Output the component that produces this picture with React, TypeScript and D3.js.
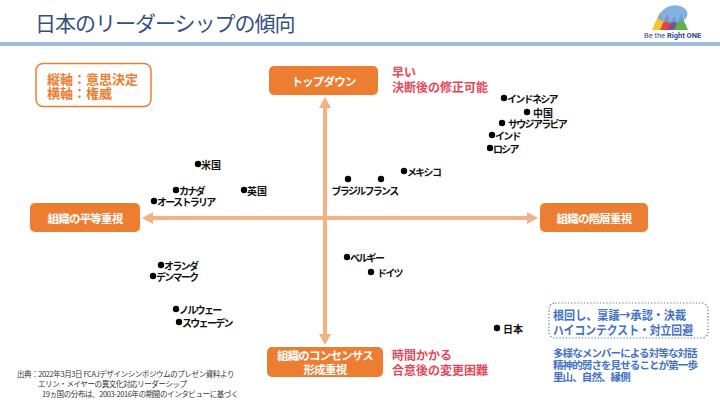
import React from 'react';
import * as d3 from 'd3';

// 国ごとの位置（横軸：権威 -10=平等 … 10=階層、縦軸：意思決定 10=トップダウン … -10=コンセンサス）
const countries = ['インドネシア', '中国', 'サウジアラビア', 'インド', 'ロシア', '米国', 'カナダ', '英国', 'オーストラリア',
  'ブラジル', 'フランス', 'メキシコ', 'ベルギー', 'ドイツ', 'オランダ', 'デンマーク', 'ノルウェー', 'スウェーデン', '日本'];
const authority = [8.95, 10.1, 8.85, 8.35, 8.25, -6.35, -7.45, -4.05, -8.55, 1.15, 2.8, 3.95, 1.1, 2.3, -8.2, -8.6, -7.45, -7.3, 8.6];
const decision = [9.6, 8.48, 7.6, 6.64, 5.6, 4.32, 2.24, 2.24, 1.36, 3.12, 3.12, 3.76, -3.12, -4.32, -3.76, -4.64, -7.28, -8.32, -8.8];
const labelBelow = ['ブラジル', 'フランス'];
const labelGap = ['ドイツ', '日本', '中国', 'サウジアラビア'];

const noteLines = ['根回し、稟議→承認・決裁', 'ハイコンテクスト・対立回避'];
const noteWidths = [133, 140];
const subLines = ['多様なメンバーによる対等な対話', '精神的弱さを見せることが第一歩', '里山、自然、縁側'];
const sourceLines = [
  '出典：2022年3月3日 FCAJデザインシンポジウムのプレゼン資料より',
  'エリン・メイヤーの異文化対応リーダーシップ',
  '19ヵ国の分布は、2003-2016年の期間のインタビューに基づく',
];

const W = 720;
const H = 402;
const ORANGE = '#ED7D31';
const AXIS = '#F4B183';
const RED = '#E8475A';
const BLUE = '#4472C4';
const FONT = '"Noto Sans CJK JP", "Noto Sans", sans-serif';

const x = d3.scaleLinear().domain([-10, 10]).range([125, 525]);
const y = d3.scaleLinear().domain([-10, 10]).range([343, 93]);

// 漢字だけのラベルは詰めない（カナは元資料のフォントが細いので詰める）
const spacing = (s: string) => (/^[\u4e00-\u9fff]+$/.test(s) ? 0 : -1.7);

const Box: React.FC<{ x0: number; y0: number; w: number; h: number; lines: string[] }> = ({ x0, y0, w, h, lines }) => (
  <g>
    <rect x={x0} y={y0} width={w} height={h} rx={5} fill={ORANGE} />
    {lines.map((t, i) => (
      <text key={i} x={x0 + w / 2} y={y0 + h / 2 + (i - (lines.length - 1) / 2) * 14} textAnchor="middle"
        dominantBaseline="central" fill="#fff" fontSize={11.5} fontWeight="bold" letterSpacing={-0.8}>{t}</text>
    ))}
  </g>
);

export default function App() {
  const cx = x(0);
  const cy = y(0);
  const left = 142, right = 538, top = 97, bottom = 345;

  return (
    <div style={{ position: 'fixed', left: 0, top: 0, width: W, height: H, background: '#fff' }}>
      <svg width={W} height={H} style={{ display: 'block', fontFamily: FONT }}>
        <rect width={W} height={H} fill="#fff" />
        {/* タイトル */}
        <text x={35} y={31} fontSize={21} fill="#34507F" letterSpacing={-1}>日本のリーダーシップの傾向</text>
        <rect x={0} y={42} width={W} height={4} fill="#9DBBDA" />

        {/* ロゴ */}
        <g>
          <path d="M652,30 L660,12 L666,30 Z" fill="#F2C531" />
          <path d="M660,30 L667,14 L673,30 Z" fill="#E0483A" />
          <path d="M667,30 L674,16 L680,30 Z" fill="#7B4FA0" />
          <path d="M674,30 L681,14 L688,30 Z" fill="#5BB348" />
          <path d="M658,18 C662,6 676,2 684,8 C690,12 688,20 680,22 C672,22 664,24 658,18 Z" fill="#6FA3DA" opacity={0.85} />
          <text x={644} y={38} fontSize={7.5} fill="#2E4A9A" fontFamily="Roboto, sans-serif">
            Be the <tspan fontWeight="bold">Right ONE</tspan>
          </text>
        </g>

        {/* 軸の説明 */}
        <rect x={36} y={63.5} width={115} height={43} rx={7} fill="#fff" stroke={ORANGE} strokeWidth={1.5} />
        <text x={47} y={78} dominantBaseline="central" fontSize={13} fontWeight="bold" fill={ORANGE}>縦軸：意思決定</text>
        <text x={47} y={92} dominantBaseline="central" fontSize={13} fontWeight="bold" fill={ORANGE}>横軸：権威</text>

        {/* 軸 */}
        <line x1={left + 8} x2={right - 8} y1={cy} y2={cy} stroke={AXIS} strokeWidth={4} />
        <line x1={cx} x2={cx} y1={top + 8} y2={bottom - 8} stroke={AXIS} strokeWidth={4} />
        <path d={`M${left},${cy} L${left + 11},${cy - 6} L${left + 11},${cy + 6} Z`} fill={AXIS} />
        <path d={`M${right},${cy} L${right - 11},${cy - 6} L${right - 11},${cy + 6} Z`} fill={AXIS} />
        <path d={`M${cx},${top} L${cx - 6},${top + 11} L${cx + 6},${top + 11} Z`} fill={AXIS} />
        <path d={`M${cx},${bottom} L${cx - 6},${bottom - 11} L${cx + 6},${bottom - 11} Z`} fill={AXIS} />

        <Box x0={269} y0={66} w={109} h={29} lines={['トップダウン']} />
        <Box x0={30} y0={203} w={110} h={29} lines={['組織の平等重視']} />
        <Box x0={540} y0={203} w={108} h={29} lines={['組織の階層重視']} />
        <Box x0={267} y0={347} w={116} h={30} lines={['組織のコンセンサス', '形成重視']} />

        {/* 赤い注記 */}
        <text fontSize={12} fontWeight="bold" fill={RED}>
          <tspan x={392} y={77}>早い</tspan>
          <tspan x={392} y={92}>決断後の修正可能</tspan>
        </text>
        <text fontSize={12} fontWeight="bold" fill={RED}>
          <tspan x={392} y={360}>時間かかる</tspan>
          <tspan x={392} y={375}>合意後の変更困難</tspan>
        </text>

        {/* 国 */}
        {countries.map((c, i) => {
          const px = x(authority[i]);
          const py = y(decision[i]);
          const below = labelBelow.includes(c);
          return (
            <g key={c}>
              <circle cx={px} cy={py} r={3.2} fill="#000" />
              {below ? (
                <text x={px} y={py + 11} textAnchor="middle" dominantBaseline="central" fontSize={10}
                  fontWeight="bold" letterSpacing={spacing(c)} fill="#111">{c}</text>
              ) : (
                <text x={px + (labelGap.includes(c) ? 6 : 3)} y={py}
                  dominantBaseline="central" fontSize={10} fontWeight="bold" letterSpacing={spacing(c)} fill="#111">{c}</text>
              )}
            </g>
          );
        })}

        {/* 青い注記 */}
        <rect x={549} y={303} width={159} height={35} rx={6} fill="none" stroke={BLUE} strokeWidth={1.2}
          strokeDasharray="1.2,2" />
        {noteLines.map((t, i) => (
          <text key={t} x={553} y={314 + i * 15} dominantBaseline="central" fontSize={12.5} fontWeight="bold"
            textLength={noteWidths[i]} lengthAdjust="spacingAndGlyphs" fill={BLUE}>{t}</text>
        ))}
        {subLines.map((t, i) => (
          <text key={t} x={553} y={352 + i * 12} dominantBaseline="central" fontSize={10.5} fontWeight="bold"
            letterSpacing={-0.9} fill={BLUE}>{t}</text>
        ))}

        {/* 出典 */}
        {sourceLines.map((t, i) => (
          <text key={t} x={i === 0 ? 17 : i === 1 ? 38 : 42} y={373 + i * 10} dominantBaseline="central"
            fontSize={7.5} letterSpacing={-0.4} fill="#333">{t}</text>
        ))}
      </svg>
    </div>
  );
}
